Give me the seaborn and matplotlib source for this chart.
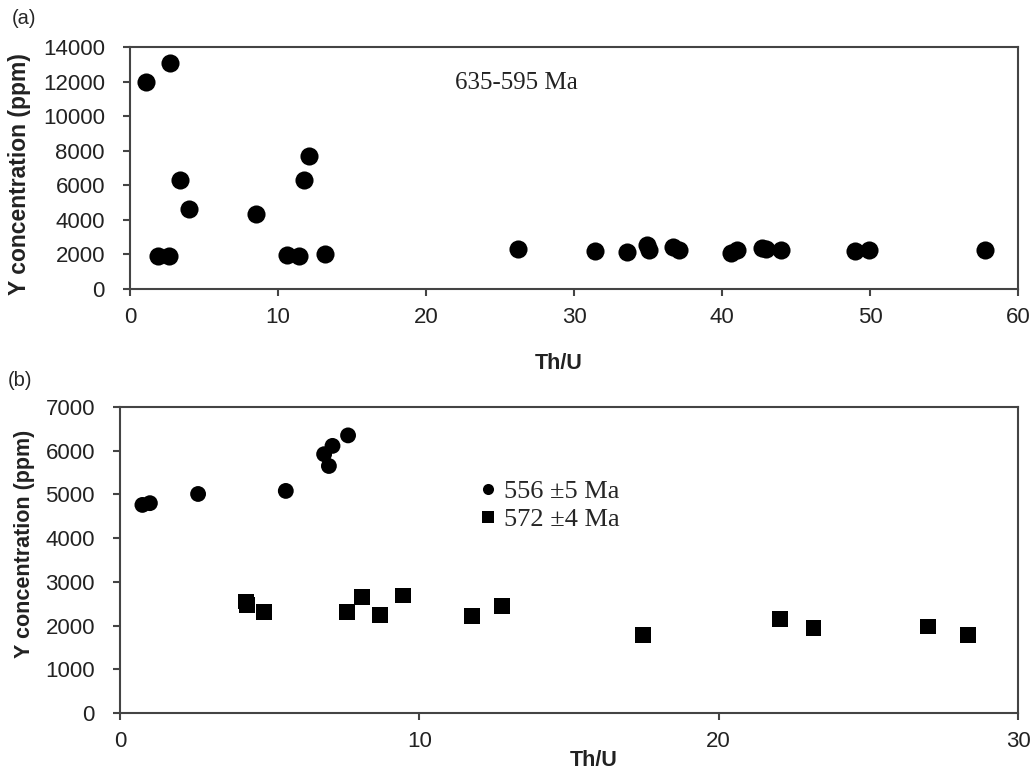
import pandas as pd
import seaborn as sns
import matplotlib.pyplot as plt

# panel (a): 635-595 Ma zircons
top_thu = [1.06, 2.71, 1.92, 2.66, 3.38, 4.01, 8.5, 10.64, 11.39, 11.77, 12.11, 13.15,
           26.2, 31.4, 33.6, 34.9, 35.1, 36.7, 37.1, 40.6, 41.0, 42.7, 43.0, 44.0,
           49.0, 49.9, 57.8]
top_y = [12000, 13100, 1920, 1920, 6320, 4650, 4350, 1980, 1920, 6290, 7670, 2020,
         2300, 2200, 2140, 2550, 2280, 2440, 2280, 2100, 2280, 2380, 2300, 2240,
         2200, 2280, 2280]

# panel (b): two age groups
circ_label = "556 \u00b15 Ma"
sq_label = "572 \u00b14 Ma"
circ_thu = [0.75, 1.0, 2.61, 5.54, 6.82, 6.98, 7.10, 7.62]
circ_y = [4760, 4800, 5010, 5080, 5920, 5650, 6110, 6350]
sq_thu = [4.2, 4.25, 4.8, 7.59, 8.09, 8.68, 9.46, 11.75, 12.75, 17.47, 22.04, 23.17,
          26.98, 28.34]
sq_y = [2550, 2470, 2310, 2310, 2660, 2250, 2690, 2210, 2440, 1780, 2150, 1940,
        1980, 1780]

df_a = pd.DataFrame({"thu": top_thu, "y": top_y})
df_b = pd.DataFrame({
    "thu": circ_thu + sq_thu,
    "y": circ_y + sq_y,
    "group": [circ_label] * len(circ_thu) + [sq_label] * len(sq_thu),
})

sns.set_theme(style="ticks")
plt.rcParams['font.family'] = ['Liberation Sans', 'DejaVu Sans']
spine_col = "#444444"
serif = ["Liberation Serif", "DejaVu Serif"]

fig = plt.figure(figsize=(10.35, 7.78), dpi=100)
ax1 = fig.add_axes([0.1256, 0.6285, 0.858, 0.311])
ax2 = fig.add_axes([0.1159, 0.0835, 0.8677, 0.3934])


def style_axes(ax, xmax, ymax, ystep):
    ax.set_xlim(0, xmax)
    ax.set_ylim(0, ymax)
    ax.set_yticks(range(0, ymax + 1, ystep))
    ax.set_xticks(range(0, xmax + 1, 10))
    for sp in ax.spines.values():
        sp.set_visible(True)
        sp.set_color(spine_col)
        sp.set_linewidth(1.5)
    ax.tick_params(axis="both", colors=spine_col, labelcolor="#222222", labelsize=16,
                   width=1.5, length=5, direction="out")
    ax.tick_params(axis="x", pad=8)
    ax.tick_params(axis="y", pad=13)


sns.scatterplot(data=df_a, x="thu", y="y", ax=ax1, color="black", s=170,
                marker="o", edgecolor="black", linewidth=0)
style_axes(ax1, 60, 14000, 2000)
ax1.set_xlabel("Th/U", fontsize=15.5, fontweight="bold", color="#222222")
ax1.set_ylabel("Y concentration (ppm)", fontsize=16.5, fontweight="bold", color="#222222")
ax1.xaxis.set_label_coords(0.483, -0.266)
ax1.yaxis.set_label_coords(-0.112, 0.475)
ax1.text(0.435, 0.85, "635-595 Ma", transform=ax1.transAxes, ha="center", va="center",
         fontsize=18, family=serif, color="#222222")

sns.scatterplot(data=df_b, x="thu", y="y", style="group", ax=ax2, color="black",
                markers={circ_label: "o", sq_label: "s"}, s=130,
                edgecolor="black", linewidth=0)
style_axes(ax2, 30, 7000, 1000)
ax2.set_xlabel("Th/U", fontsize=15.5, fontweight="bold", color="#222222")
ax2.set_ylabel("Y concentration (ppm)", fontsize=15.5, fontweight="bold", color="#222222")
ax2.xaxis.set_label_coords(0.528, -0.121)
ax2.yaxis.set_label_coords(-0.0947, 0.552)

handles, labels = ax2.get_legend_handles_labels()
ax2.legend(handles, labels, loc="upper left", bbox_to_anchor=(0.378, 0.805),
           frameon=False, markerscale=0.7, handletextpad=0.0, labelspacing=0.15,
           borderpad=0, handlelength=1.2, prop={"family": serif, "size": 19})

fig.text(12 / 1035, 1 - 18 / 778, "(a)", fontsize=14.5, va="center", ha="left")
fig.text(8 / 1035, 1 - 381 / 778, "(b)", fontsize=14.5, va="center", ha="left")

fig.savefig("out.png", dpi=100)
